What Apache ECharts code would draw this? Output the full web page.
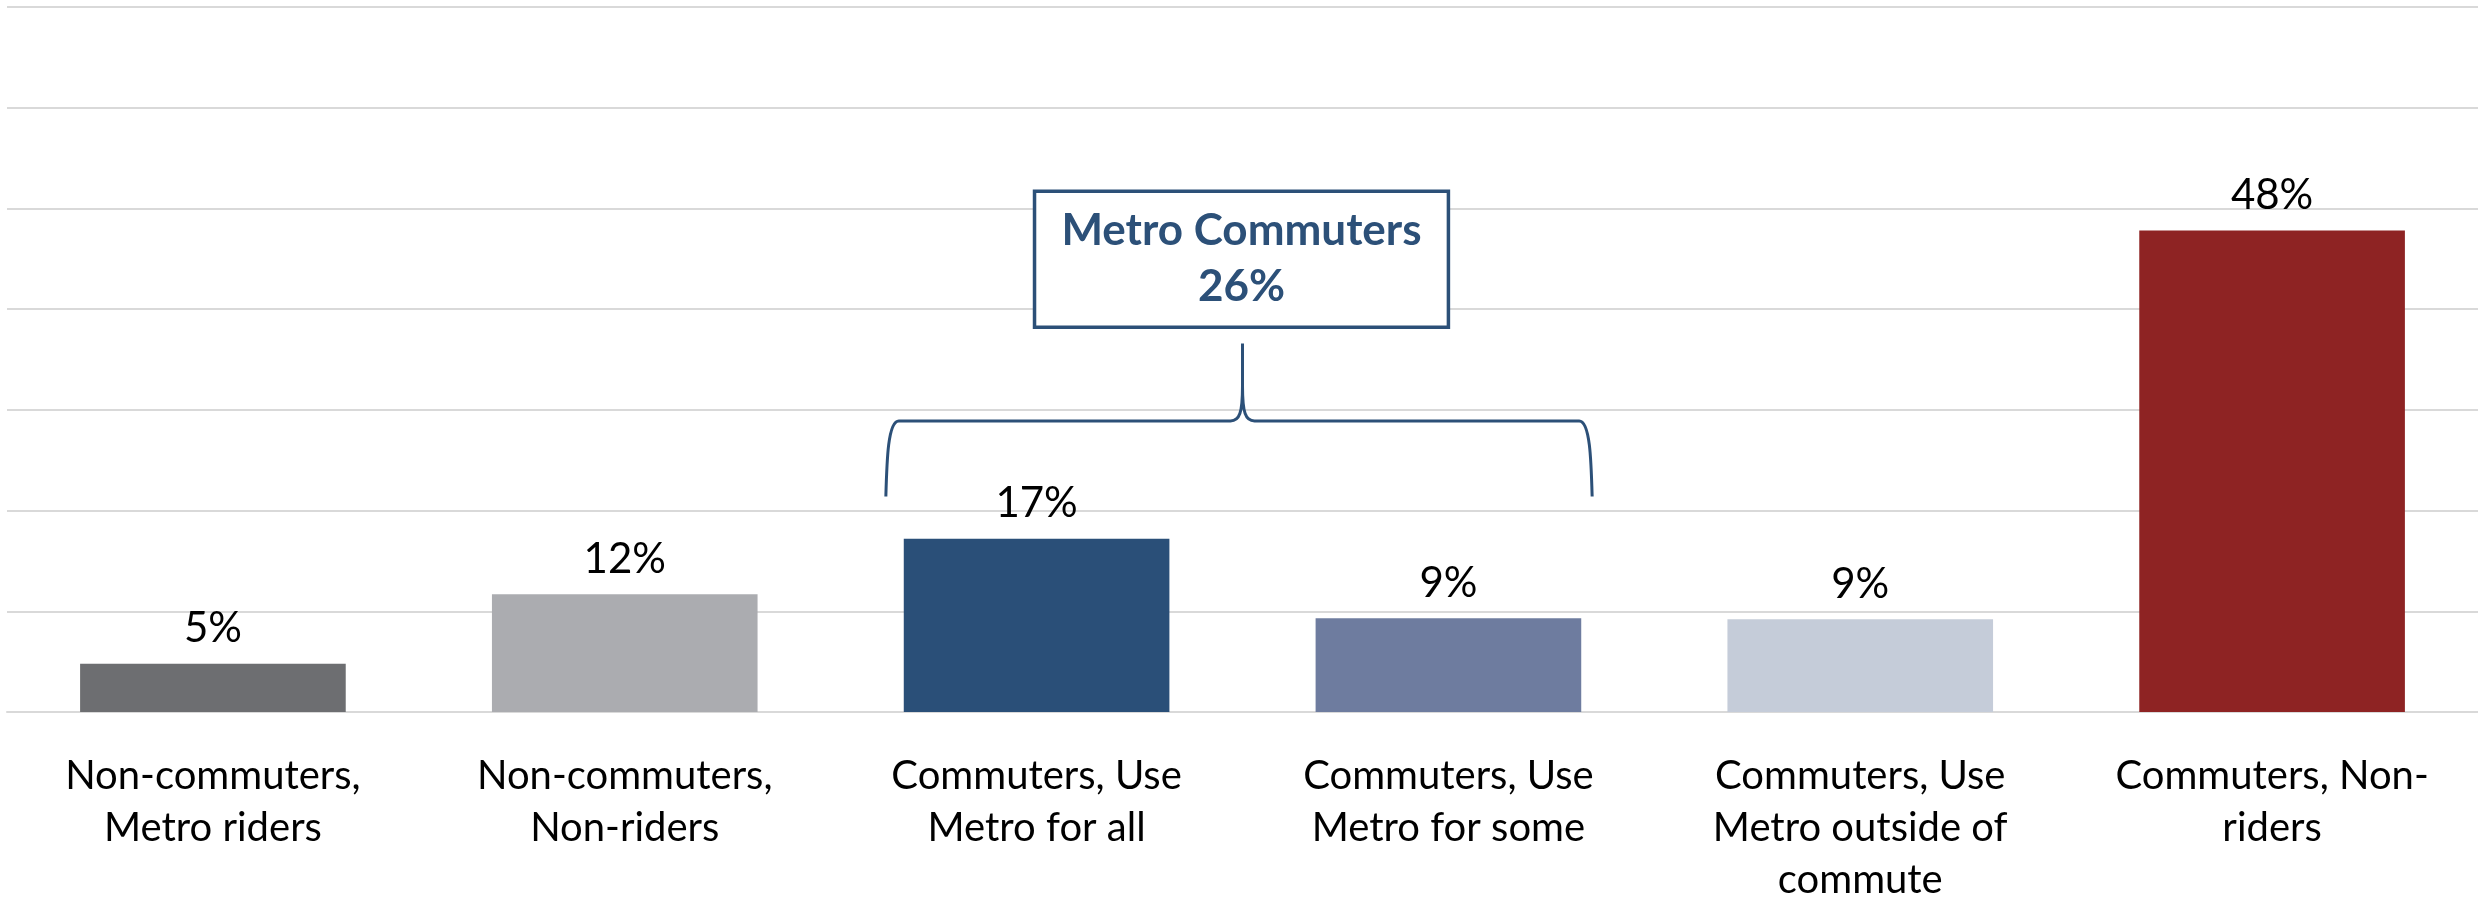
<!DOCTYPE html>
<html>
<head>
<meta charset="utf-8">
<script src="https://cdn.jsdelivr.net/npm/echarts@6/dist/echarts.min.js"></script>
<style>
  html, body { margin: 0; padding: 0; background: #fff; }
  #chart { width: 2478px; height: 901px; }
</style>
</head>
<body>
<div id="chart"></div>
<script>
// ---- data ----
const categories = [
  'Non-commuters,\nMetro riders',
  'Non-commuters,\nNon-riders',
  'Commuters, Use\nMetro for all',
  'Commuters, Use\nMetro for some',
  'Commuters, Use\nMetro outside of\ncommute',
  'Commuters, Non-\nriders'
];
const shares = [0.048, 0.117, 0.172, 0.093, 0.092, 0.478];
const yTicks = [0, 0.1, 0.2, 0.3, 0.4, 0.5, 0.6, 0.7];
const groupLabel = ['Metro Commuters', '26%'];
const groupFirst = 2;   // first category spanned by the bracket
const groupLast = 3;    // last category spanned by the bracket

// ---- styles ----
const barColors = ['#6D6E71', '#ABACB0', '#2A4F78', '#6E7C9F', '#C5CCD9', '#8E2323'];
const accent = '#2C5078';
const FONT = 'Lato, "Open Sans", sans-serif';

const chart = echarts.init(document.getElementById('chart'), null, { renderer: 'canvas' });

function renderBracket(params, api) {
  const c0 = api.coord([groupFirst, 0]);
  const c1 = api.coord([groupLast, 0]);
  const step = c1[0] - c0[0];
  const y = v => api.coord([groupFirst, v])[1];
  const L = c0[0] - 0.366 * step;
  const R = c1[0] + 0.349 * step;
  const M = (c0[0] + c1[0]) / 2;
  const yb = y(0.214), yh = y(0.289), yt = y(0.366);
  const pathData =
    `M ${L} ${yb} C ${L + 1} ${yh + 40} ${L + 2} ${yh} ${L + 13} ${yh} ` +
    `L ${M - 12} ${yh} C ${M - 3} ${yh} ${M} ${yh - 8} ${M} ${yh - 35} L ${M} ${yt} ` +
    `M ${M} ${yh - 35} C ${M} ${yh - 8} ${M + 3} ${yh} ${M + 12} ${yh} ` +
    `L ${R - 13} ${yh} C ${R - 2} ${yh} ${R - 1} ${yh + 40} ${R} ${yb}`;
  const bx0 = c0[0] - 0.005 * step;
  const bx1 = c1[0];
  const by0 = y(0.517), by1 = y(0.382);
  return {
    type: 'group',
    children: [
      {
        type: 'path',
        shape: { pathData: pathData },
        style: { fill: 'none', stroke: accent, lineWidth: 3 }
      },
      {
        type: 'rect',
        shape: { x: bx0, y: by0, width: bx1 - bx0, height: by1 - by0 },
        style: { fill: '#ffffff', stroke: accent, lineWidth: 3.5 }
      },
      {
        type: 'text',
        x: (bx0 + bx1) / 2,
        y: (by0 + by1) / 2,
        style: {
          text: groupLabel.join('\n'),
          fill: accent,
          fontFamily: FONT,
          fontWeight: 'bold',
          fontSize: 44,
          lineHeight: 56,
          align: 'center',
          verticalAlign: 'middle'
        }
      }
    ]
  };
}

chart.setOption({
  animation: false,
  backgroundColor: '#ffffff',
  grid: { left: 7, right: 0, top: 7, bottom: 189, containLabel: false, outerBoundsMode: 'none' },
  xAxis: {
    type: 'category',
    data: categories,
    axisLine: { show: true, lineStyle: { color: '#D9D9D9', width: 2 } },
    axisTick: { show: false },
    axisLabel: {
      interval: 0,
      margin: 38,
      color: '#000000',
      fontFamily: FONT,
      fontSize: 40,
      lineHeight: 52
    }
  },
  yAxis: {
    type: 'value',
    min: yTicks[0],
    max: yTicks[yTicks.length - 1],
    interval: yTicks[1] - yTicks[0],
    axisLine: { show: false },
    axisTick: { show: false },
    axisLabel: { show: false },
    splitLine: { show: true, lineStyle: { color: '#D9D9D9', width: 2 } }
  },
  series: [
    {
      type: 'bar',
      data: shares.map((v, i) => ({ value: v, itemStyle: { color: barColors[i] } })),
      barCategoryGap: '35.5%',
      label: {
        show: true,
        position: 'top',
        distance: 14,
        color: '#000000',
        fontFamily: FONT,
        fontSize: 42,
        formatter: p => Math.round(p.value * 100) + '%'
      }
    },
    {
      type: 'custom',
      coordinateSystem: 'cartesian2d',
      data: [[groupFirst, 0]],
      renderItem: renderBracket,
      z: 10,
      silent: true
    }
  ]
});
</script>
</body>
</html>
